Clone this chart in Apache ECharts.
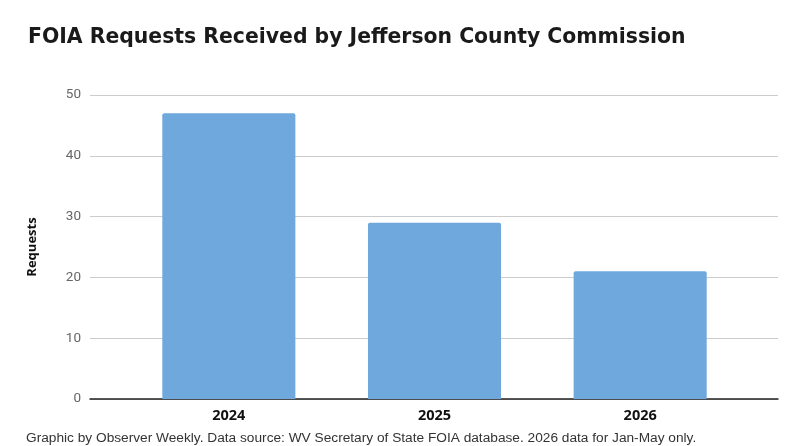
<!DOCTYPE html>
<html>
<head>
<meta charset="utf-8">
<script src="https://cdn.jsdelivr.net/npm/echarts@6/dist/echarts.min.js"></script>
<style>
  html, body { margin: 0; padding: 0; background: #fff; }
  #chart { width: 800px; height: 446px; }
</style>
</head>
<body>
<div id="chart"></div>
<script>
// data
var years = ['2024', '2025', '2026'];
var requests = [47, 29, 21];
var yTicks = [0, 10, 20, 30, 40, 50];

var myChart = echarts.init(document.getElementById('chart'));

var option = {
    animation: false,
    backgroundColor: '#fff',
    title: [{
        text: 'FOIA Requests Received by Jefferson County Commission',
        left: 23,
        top: 23,
        textStyle: { fontFamily: 'DejaVu Sans', fontWeight: 'bold', fontSize: 20.4, color: '#1a1a1a' }
    }, {
        text: 'Graphic by Observer Weekly. Data source: WV Secretary of State FOIA database. 2026 data for Jan-May only.',
        left: 21,
        top: 426,
        textStyle: { fontFamily: 'Liberation Sans', fontWeight: 'normal', fontSize: 13.7, color: '#333' }
    }],
    // grid 0 = full width gridlines, grid 1 = the bars (narrower, as in the picture)
    grid: [
        { left: 90, right: 22, top: 95, bottom: 47 },
        { left: 126, right: 57, top: 95, bottom: 47 }
    ],
    xAxis: [{
        gridIndex: 0,
        type: 'value',
        min: 0, max: 1,
        axisLine: { show: true, onZero: false, lineStyle: { color: '#222', width: 1.5 } },
        axisTick: { show: false },
        axisLabel: { show: false },
        splitLine: { show: false }
    }, {
        gridIndex: 1,
        type: 'category',
        data: years,
        axisLine: { show: false },
        axisTick: { show: false },
        axisLabel: { margin: 9, fontFamily: 'Open Sans', fontWeight: 'bold', fontSize: 14.5, color: '#111' }
    }],
    yAxis: [{
        gridIndex: 0,
        type: 'value',
        min: 0, max: 50, interval: 10,
        name: 'Requests',
        nameLocation: 'middle',
        nameGap: 51,
        nameTextStyle: { fontFamily: 'Open Sans', fontWeight: 'bold', fontSize: 13, color: '#111' },
        axisLine: { show: false },
        axisTick: { show: false },
        axisLabel: { margin: 9, fontFamily: 'Roboto', fontSize: 13.5, color: '#666',
            formatter: function (v) { return yTicks.indexOf(v) >= 0 ? v : ''; } },
        splitLine: { lineStyle: { color: '#cccccc', width: 1.2 } }
    }, {
        gridIndex: 1,
        type: 'value',
        min: 0, max: 50, interval: 10,
        show: false
    }],
    series: [{
        type: 'bar',
        xAxisIndex: 1,
        yAxisIndex: 1,
        data: requests,
        barWidth: '64.7%',
        itemStyle: { color: '#6fa8dc', borderRadius: [2, 2, 0, 0] },
        z: 1
    }]
};

myChart.setOption(option);
</script>
</body>
</html>
